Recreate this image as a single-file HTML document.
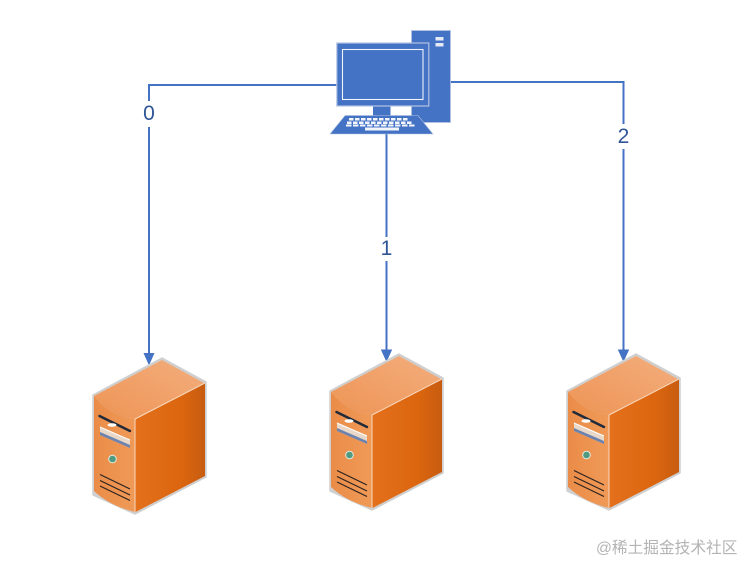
<!DOCTYPE html>
<html>
<head>
<meta charset="utf-8">
<style>
html,body{margin:0;padding:0;background:#fff;width:755px;height:575px;overflow:hidden}
svg{display:block;filter:blur(0.35px)}
text{font-family:"Liberation Sans","Noto Sans CJK SC",sans-serif}
</style>
</head>
<body>
<svg width="755" height="575" viewBox="0 0 755 575" xmlns="http://www.w3.org/2000/svg">
<defs>
<linearGradient id="side" x1="0" y1="0" x2="1" y2="0">
<stop offset="0" stop-color="#e4701c"/><stop offset="0.65" stop-color="#dc660f"/><stop offset="1" stop-color="#c75c10"/>
</linearGradient>
<linearGradient id="top" x1="0" y1="1" x2="1" y2="0">
<stop offset="0" stop-color="#ee9455"/><stop offset="1" stop-color="#f3ae7d"/>
</linearGradient>
<linearGradient id="front" x1="0" y1="0" x2="1" y2="0">
<stop offset="0" stop-color="#ea8c48"/><stop offset="1" stop-color="#f09a58"/>
</linearGradient>
<g id="server">
<path d="M162 358 L206 382 L206 477 L135 514 L93 495 L93 395 Z" fill="#cfcfcf" stroke="#cfcfcf" stroke-width="1.500" stroke-linejoin="round"/>
<path d="M162 360 L204 383 L135 419 Q110 416 94 396 Z" fill="url(#top)"/>
<path d="M94 396 Q110 416 135 419 L135 512 Q110 506 94 491 Z" fill="url(#front)"/>
<path d="M135.500 419 L205 383 L205 476 L135.500 512 Z" fill="url(#side)"/>
<path d="M135 419 L205 383 M135 419 L135 512" stroke="#f8d8bd" stroke-width="1" fill="none"/>
<path d="M99.500 416 L130 431" stroke="#1f2a3a" stroke-width="2.400" fill="none" stroke-linecap="round"/>
<ellipse cx="112" cy="425" rx="4.500" ry="1.800" fill="#fff"/>
<path d="M100 427 L130 440 L130 448 L100 435 Z" fill="#e9d8c8"/>
<path d="M100 432 L130 445 L130 448 L100 435 Z" fill="#6d83ad"/>
<path d="M100 427 L130 440" stroke="#fff" stroke-width="1"/>
<circle cx="112.500" cy="459" r="3.800" fill="#4f9a80" stroke="#e2ece0" stroke-width="1"/>
<path d="M100 474.500 L130 489 M100 480.500 L130 495 M100 486 L130 500.500" stroke="#2b2320" stroke-width="1.200" fill="none"/>
</g>
</defs>

<!-- connectors -->
<path d="M337 85 H149 V101 M149 127 V356" fill="none" stroke="#4472c4" stroke-width="2"/>
<path d="M143.500 353 L154.500 353 L149 365.500 Z" fill="#4472c4"/>
<path d="M386.500 134 V237 M386.500 261 V352" fill="none" stroke="#4472c4" stroke-width="2"/>
<path d="M380.800 349.500 L392.200 349.500 L386.500 362 Z" fill="#4472c4"/>
<path d="M450 82 H623.500 V124 M623.500 149 V352" fill="none" stroke="#4472c4" stroke-width="2"/>
<path d="M617.800 349.500 L629.200 349.500 L623.500 362 Z" fill="#4472c4"/>

<text x="149" y="120" font-size="21" fill="#2f5597" text-anchor="middle">0</text>
<text x="386.500" y="255" font-size="21" fill="#2f5597" text-anchor="middle">1</text>
<text x="623.500" y="143" font-size="21" fill="#2f5597" text-anchor="middle">2</text>

<!-- computer -->
<rect x="411.500" y="30.500" width="39" height="92" fill="#4472c4" stroke="#b4c3e2" stroke-width="0.800"/>
<rect x="435.500" y="37" width="8" height="3.500" fill="#e4eaf6"/>
<rect x="435.500" y="43" width="8" height="3.500" fill="#e4eaf6"/>
<rect x="373" y="105" width="17.500" height="11" fill="#4472c4"/>
<rect x="336.800" y="43" width="92" height="63" fill="#4472c4" stroke="#b4c3e2" stroke-width="1.200"/>
<rect x="342.500" y="49.500" width="80.500" height="50" fill="#4472c4" stroke="#f0f3fa" stroke-width="1.100"/>
<path d="M345 115.500 H418 L433 134 H330 Z" fill="#4472c4" stroke="#b4c3e2" stroke-width="0.600"/>
<g fill="#f2f5fb">
<path d="M349 118h4.500v2.500h-4.500zM355 118h4.500v2.500h-4.500zM361 118h4.500v2.500h-4.500zM367 118h4.500v2.500h-4.500zM373 118h4.500v2.500h-4.500zM379 118h4.500v2.500h-4.500zM385 118h4.500v2.500h-4.500zM391 118h4.500v2.500h-4.500zM397 118h4.500v2.500h-4.500zM403 118h4.500v2.500h-4.500z"/>
<path d="M347 121.500h4.500v2.500h-4.500zM353 121.500h4.500v2.500h-4.500zM359 121.500h4.500v2.500h-4.500zM365 121.500h4.500v2.500h-4.500zM371 121.500h4.500v2.500h-4.500zM377 121.500h4.500v2.500h-4.500zM383 121.500h4.500v2.500h-4.500zM389 121.500h4.500v2.500h-4.500zM395 121.500h4.500v2.500h-4.500zM401 121.500h4.500v2.500h-4.500zM407 121.500h4.500v2.500h-4.500z"/>
<path d="M346 124.500h5.500v2h-5.500zM353 124.500h5.500v2h-5.500zM360 124.500h5.500v2h-5.500zM367 124.500h5.500v2h-5.500zM374 124.500h5.500v2h-5.500zM381 124.500h5.500v2h-5.500zM388 124.500h5.500v2h-5.500zM395 124.500h5.500v2h-5.500zM402 124.500h5.500v2h-5.500zM409 124.500h5.500v2h-5.500z"/>
<rect x="365" y="127.500" width="34" height="3"/>
</g>

<!-- servers -->
<use href="#server"/>
<use href="#server" x="237" y="-4"/>
<use href="#server" x="474" y="-4"/>

<text x="596" y="553" font-size="15.700" fill="#b4b4b4">@稀土掘金技术社区</text>
</svg>
</body>
</html>
